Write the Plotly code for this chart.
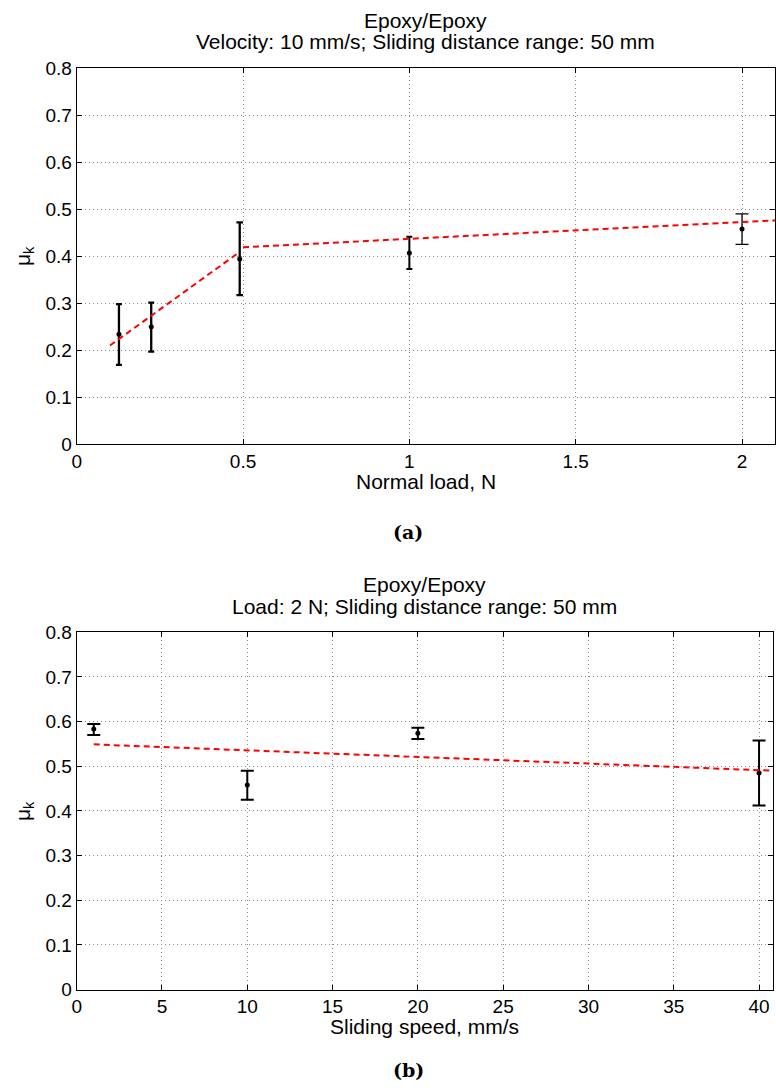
import plotly.graph_objects as go

# ---------------- Data: panel (a) ----------------
load_n = [0.127, 0.224, 0.49, 1.0, 2.0]
mu_load = [0.234, 0.250, 0.394, 0.4065, 0.4575]
err_load_plus = [0.064, 0.051, 0.078, 0.0345, 0.0325]
err_load_minus = [0.065, 0.053, 0.077, 0.034, 0.0325]
fit_load_low_x = [0.1, 0.49]
fit_load_low_y = [0.21, 0.409]
fit_load_high_x = [0.5, 2.1]
fit_load_high_y = [0.419, 0.476]
load_ticks = [0, 0.5, 1, 1.5, 2]
load_ticktext = ["0", "0.5", "1", "1.5", "2"]

# ---------------- Data: panel (b) ----------------
speed = [1, 10, 20, 40]
mu_speed = [0.5834, 0.458, 0.574, 0.4848]
err_speed_plus = [0.0112, 0.032, 0.0124, 0.073]
err_speed_minus = [0.0134, 0.033, 0.0130, 0.0728]
fit_speed_x = [1, 40.8]
fit_speed_y = [0.549, 0.490]
speed_ticks = [0, 5, 10, 15, 20, 25, 30, 35, 40]
speed_ticktext = ["0", "5", "10", "15", "20", "25", "30", "35", "40"]

mu_ticks = [0, 0.1, 0.2, 0.3, 0.4, 0.5, 0.6, 0.7, 0.8]
mu_ticktext = ["0", "0.1", "0.2", "0.3", "0.4", "0.5", "0.6", "0.7", "0.8"]

# styles (not data)
load_err_thick = [2.3, 2.3, 2.3, 2.0, 1.3]
load_err_cap = [3, 3, 3.3, 3, 6.5]

W, H = 776, 1088
SANS = "Liberation Sans, Arial, Helvetica, sans-serif"

fig = go.Figure()

# panel (a) points with error bars
for i in range(len(load_n)):
    fig.add_trace(go.Scatter(
        x=[load_n[i]], y=[mu_load[i]], mode="markers",
        marker=dict(color="black", size=5),
        error_y=dict(type="data", symmetric=False,
                     array=[err_load_plus[i]], arrayminus=[err_load_minus[i]],
                     color="black", thickness=load_err_thick[i], width=load_err_cap[i]),
        xaxis="x", yaxis="y", showlegend=False, hoverinfo="skip", cliponaxis=False))

for fx, fy in [(fit_load_low_x, fit_load_low_y), (fit_load_high_x, fit_load_high_y)]:
    fig.add_trace(go.Scatter(
        x=fx, y=fy, mode="lines",
        line=dict(color="red", width=2, dash="6px,4px"),
        xaxis="x", yaxis="y", showlegend=False, hoverinfo="skip"))

# panel (b)
fig.add_trace(go.Scatter(
    x=speed, y=mu_speed, mode="markers",
    marker=dict(color="black", size=5),
    error_y=dict(type="data", symmetric=False,
                 array=err_speed_plus, arrayminus=err_speed_minus,
                 color="black", thickness=2, width=6.5),
    xaxis="x2", yaxis="y2", showlegend=False, hoverinfo="skip", cliponaxis=False))
fig.add_trace(go.Scatter(
    x=fit_speed_x, y=fit_speed_y, mode="lines",
    line=dict(color="red", width=2, dash="6px,4px"),
    xaxis="x2", yaxis="y2", showlegend=False, hoverinfo="skip"))

def px_x(p):
    return p / W

def px_y(p):
    return 1 - p / H

axis_common = dict(
    showline=True, linecolor="black", linewidth=1, mirror="ticks",
    ticks="inside", ticklen=5, tickwidth=1, tickcolor="black",
    showgrid=True, gridcolor="#8c8c8c", gridwidth=1, griddash="1px,3px",
    zeroline=False, tickfont=dict(family=SANS, size=19, color="black"),
    fixedrange=True, automargin=False,
)

fig.update_layout(
    width=W, height=H, autosize=False,
    margin=dict(l=0, r=0, t=0, b=0, autoexpand=False),
    paper_bgcolor="white", plot_bgcolor="white",
    xaxis=dict(domain=[px_x(76.7), px_x(775.3)], range=[0, 2.1],
               tickmode="array", tickvals=load_ticks, ticktext=load_ticktext,
               anchor="y", **axis_common),
    yaxis=dict(domain=[px_y(444.3), px_y(68)], range=[0, 0.8],
               tickmode="array", tickvals=mu_ticks, ticktext=mu_ticktext,
               anchor="x", **axis_common),
    xaxis2=dict(domain=[px_x(76.7), px_x(772.7)], range=[0, 40.8],
                tickmode="array", tickvals=speed_ticks, ticktext=speed_ticktext,
                anchor="y2", **axis_common),
    yaxis2=dict(domain=[px_y(989.5), px_y(632.3)], range=[0, 0.8],
                tickmode="array", tickvals=mu_ticks, ticktext=mu_ticktext,
                anchor="x2", **axis_common),
)

txt = dict(family=SANS, size=21, color="black")
annos = [
    # panel (a)
    dict(text="Epoxy/Epoxy", xref="x domain", x=0.5, yref="paper", y=px_y(20)),
    dict(text="Velocity: 10 mm/s; Sliding distance range: 50 mm", xref="x domain", x=0.5, yref="paper", y=px_y(42)),
    dict(text="Normal load, N", xref="x domain", x=0.5, yref="paper", y=px_y(481)),
    dict(text="μ<sub>k</sub>", xref="paper", x=px_x(24), yref="paper", y=px_y(256), textangle=-90),
    # panel (b)
    dict(text="Epoxy/Epoxy", xref="x2 domain", x=0.5, yref="paper", y=px_y(584)),
    dict(text="Load: 2 N; Sliding distance range: 50 mm", xref="x2 domain", x=0.5, yref="paper", y=px_y(606)),
    dict(text="Sliding speed, mm/s", xref="x2 domain", x=0.5, yref="paper", y=px_y(1026)),
    dict(text="μ<sub>k</sub>", xref="paper", x=px_x(24), yref="paper", y=px_y(811), textangle=-90),
]
for a in annos:
    fig.add_annotation(showarrow=False, xanchor="center", yanchor="middle", font=txt, **a)

cap_font = dict(family="DejaVu Serif, serif", size=19, color="black")
fig.add_annotation(text="<b>(a)</b>", xref="paper", x=px_x(408), yref="paper", y=px_y(532),
                   showarrow=False, xanchor="center", yanchor="middle", font=cap_font)
fig.add_annotation(text="<b>(b)</b>", xref="paper", x=px_x(408), yref="paper", y=px_y(1070),
                   showarrow=False, xanchor="center", yanchor="middle", font=cap_font)

fig.write_html(
    "out.html",
    config={"displayModeBar": False},
    post_script="document.body.style.margin='0';document.body.style.padding='0';"
                "document.documentElement.style.overflow='hidden';document.body.style.overflow='hidden';",
)
